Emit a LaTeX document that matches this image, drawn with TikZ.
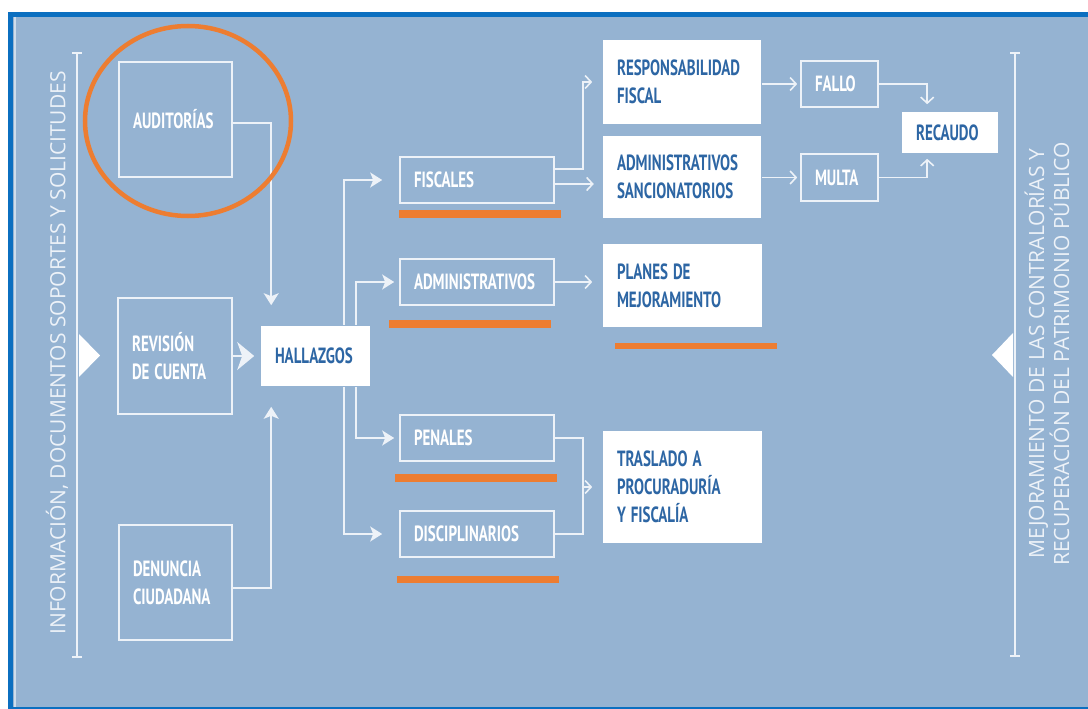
\documentclass[tikz,border=0pt]{standalone}
\usepackage{fontspec}
\setmainfont{Open Sans}
\newfontfamily\lblfont{PT Sans}[FakeStretch=0.68]
\usetikzlibrary{arrows.meta}
\definecolor{bgc}{HTML}{95B3D2}
\definecolor{framec}{HTML}{0B6FC0}
\definecolor{linec}{HTML}{EDF2F8}
\definecolor{txtc}{HTML}{2D66A4}
\definecolor{orangec}{HTML}{ED7D31}

\begin{document}
\begin{tikzpicture}[x=1pt, y=-1pt,
  conn/.style={draw=linec, line width=1.6pt},
  fat/.style={conn, -{Stealth[length=12pt,width=15pt,inset=3pt]}},
  bigfat/.style={conn, -{Stealth[length=17pt,width=28pt,inset=5pt]}},
  barb/.style={conn, -{Straight Barb[length=6pt,width=13pt]}},
  obox/.style={draw=linec, line width=1.6pt, inner xsep=14pt, inner ysep=0pt,
    align=left, text=white, font=\lblfont\bfseries\fontsize{22}{28}\selectfont,
    execute at begin node={\spaceskip=5pt\xspaceskip=5pt\relax}},
  wbox/.style={obox, fill=white, draw=none, text=txtc},
  uline/.style={fill=orangec},
  side/.style={text=linec, font=\fontsize{21}{25}\selectfont, rotate=90, align=center}]
  \useasboundingbox (0,0) rectangle (1088,709);
  % frame
  \fill[framec] (8,12) rectangle (1088,709);
  \fill[bgc] (13,17) rectangle (1088,706.5);
  \draw[white!55!bgc, line width=1.5pt] (15,17) -- (15,706.5);

  % side bars
  \coordinate (ltop) at (77,52);
  \coordinate (lbot) at (77,658);
  \coordinate (rtop) at (1015,52);
  \coordinate (rbot) at (1015,657);
  \draw[conn, {Bar[width=10pt]}-{Bar[width=10pt]}] (ltop) -- (lbot);
  \draw[conn, {Bar[width=10pt]}-{Bar[width=10pt]}] (rtop) -- (rbot);
  \fill[white] (79,334) -- (100,355.5) -- (79,377) -- cycle;
  \fill[white] (1013,333) -- (992,355) -- (1013,377) -- cycle;
  \node[side] (lefttxt) at (57,353) {INFORMACIÓN, DOCUMENTOS SOPORTES Y SOLICITUDES};
  \node[side] (righttxt) at (1047,354) {MEJORAMIENTO DE LAS CONTRALORÍAS Y\\RECUPERACIÓN DEL PATRIMONIO PÚBLICO};

  % sources
  \node[obox, text width=85pt, minimum height=115pt] (auditorias) at (175.5,119.5) {AUDITORÍAS};
  \node[obox, text width=86pt, minimum height=116pt] (revision) at (175,356) {REVISIÓN\\DE CUENTA};
  \node[obox, text width=85pt, minimum height=115pt] (denuncia) at (175.5,582.5) {DENUNCIA\\CIUDADANA};
  \node[wbox, text width=81pt, minimum height=60pt] (hallazgos) at (315.5,356) {HALLAZGOS};

  % types of findings
  \node[obox, text width=126pt, minimum height=46pt] (fiscales) at (477,180) {FISCALES};
  \node[obox, text width=126pt, minimum height=46pt] (administrativos) at (477,282) {ADMINISTRATIVOS};
  \node[obox, text width=126pt, minimum height=46pt] (penales) at (477,438) {PENALES};
  \node[obox, text width=126pt, minimum height=46pt] (disciplinarios) at (477,534) {DISCIPLINARIOS};

  % outcomes
  \node[wbox, text width=130pt, minimum height=84pt] (respfiscal) at (682,82) {RESPONSABILIDAD\\FISCAL};
  \node[wbox, text width=130pt, minimum height=82pt] (admsanc) at (682,177) {ADMINISTRATIVOS\\SANCIONATORIOS};
  \node[wbox, text width=131pt, minimum height=83pt] (planes) at (682.5,285.5) {PLANES DE\\MEJORAMIENTO};
  \node[wbox, text width=131pt, minimum height=112pt] (traslado) at (682.5,487) {TRASLADO A\\PROCURADURÍA\\Y FISCALÍA};
  \node[obox, text width=49pt, minimum height=46pt] (fallo) at (839.5,84) {FALLO};
  \node[obox, text width=49pt, minimum height=47pt] (multa) at (839.5,177.5) {MULTA};
  \node[wbox, text width=68pt, minimum height=41pt] (recaudo) at (950,132.5) {RECAUDO};

  % connectors
  \draw[fat, shorten >=20pt] ([yshift=-3.5pt]auditorias.east) -| ([xshift=11pt]hallazgos.north west);
  \draw[bigfat, shorten >=6pt] (revision.east) -- (hallazgos.west);
  \draw[fat, shorten >=20pt] ([yshift=-5.5pt]denuncia.east) -| ([xshift=11pt]hallazgos.south west);
  \draw[fat, shorten >=17pt] ([xshift=-27pt]hallazgos.north east) |- (fiscales.west);
  \draw[fat, shorten >=5pt] ([xshift=-15pt]hallazgos.north east) |- (administrativos.west);
  \draw[fat, shorten >=5pt] ([xshift=-15pt]hallazgos.south east) |- (penales.west);
  \draw[fat, shorten >=17pt] ([xshift=-27pt]hallazgos.south east) |- (disciplinarios.west);
  \draw[barb, shorten >=10pt] ([yshift=11pt]fiscales.east) -- ++(28,0) |- (respfiscal.west);
  \draw[barb, shorten >=10pt] ([yshift=-4pt]fiscales.east) -- ++(49,0);
  \draw[barb, shorten >=10pt] (administrativos.east) -- (administrativos.east -| planes.west);
  \draw[conn] (penales.east) -- ++(28,0) coordinate (join) |- (disciplinarios.east);
  \draw[barb, shorten >=10pt] (join |- traslado.west) -- (traslado.west);
  \draw[barb, shorten >=3pt] (respfiscal.east |- fallo.west) -- (fallo.west);
  \draw[barb, shorten >=3pt] (admsanc.east |- multa.west) -- (multa.west);
  \draw[barb, shorten >=7pt] (fallo.east) -| ([xshift=26pt]recaudo.north west);
  \draw[barb, shorten >=5pt] (multa.east) -| ([xshift=26pt]recaudo.south west);

  % orange marks
  \fill[uline] (399,210) rectangle (561,218);
  \fill[uline] (389,320) rectangle (551,328);
  \fill[uline] (615,343) rectangle (777,349);
  \fill[uline] (395,474) rectangle (557,482);
  \fill[uline] (397,576) rectangle (559,583);
  \draw[orangec, line width=4.5pt] (188,121) ellipse [x radius=103, y radius=95];
\end{tikzpicture}
\end{document}
